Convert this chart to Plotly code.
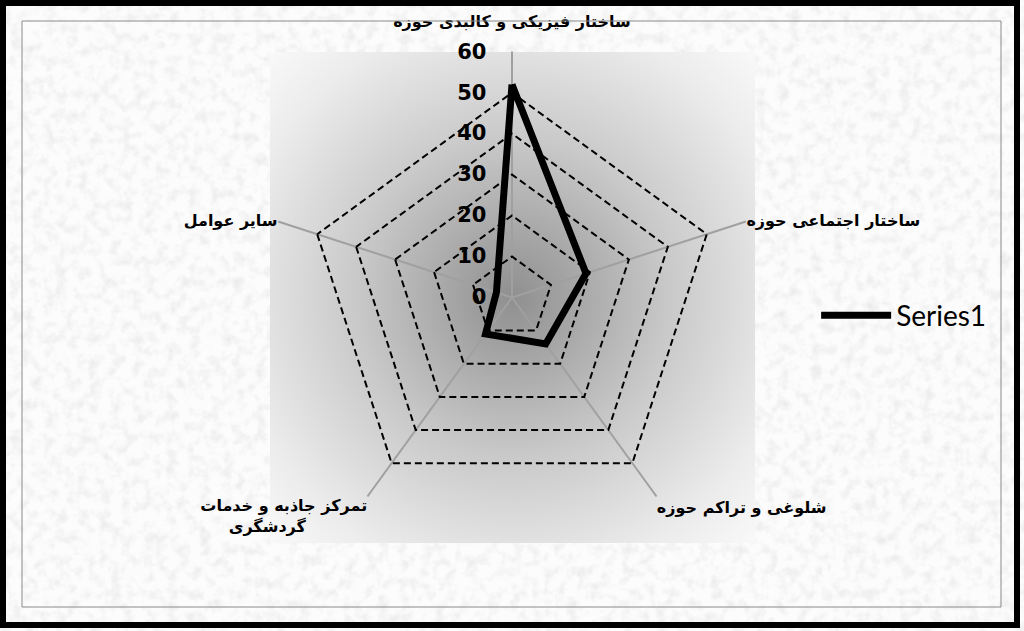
import base64
import plotly.graph_objects as go

categories = [
    "ساختار فیزیکی و کالبدی حوزه<br> ",
    "ساختار اجتماعی حوزه",
    "شلوغی و تراکم حوزه",
    "تمرکز جاذبه و خدمات<br>گردشگری" + "\u00a0" * 11,
    "سایر عوامل",
]
series_name = "Series1"
series_values = [52, 19, 14, 11, 4]
radial_ticks = [0, 10, 20, 30, 40, 50, 60]
radial_ticktext = [str(v) + "\u00a0" * 3 for v in radial_ticks]

W, H = 1024, 631

texture_svg = f"""<svg xmlns='http://www.w3.org/2000/svg' width='{W}' height='{H}'>
<filter id='n' x='0' y='0' width='100%' height='100%'>
<feTurbulence type='fractalNoise' baseFrequency='0.09' numOctaves='3' seed='7'/>
<feColorMatrix type='matrix' values='0 0 0 0 0.55 0 0 0 0 0.55 0 0 0 0 0.55 0 0 0 -2.2 1.25'/>
</filter>
<rect width='100%' height='100%' fill='#fcfcfc'/>
<rect width='100%' height='100%' filter='url(#n)' opacity='0.28'/>
</svg>"""

grad_svg = """<svg xmlns='http://www.w3.org/2000/svg' width='485' height='491'>
<defs><radialGradient id='g' cx='50%' cy='50%' r='72%'>
<stop offset='0' stop-color='#8f8f8f'/>
<stop offset='0.45' stop-color='#c9c9c9'/>
<stop offset='0.8' stop-color='#ececec'/>
<stop offset='1' stop-color='#fafafa'/>
</radialGradient></defs>
<rect width='100%' height='100%' fill='url(#g)'/>
</svg>"""


def uri(s):
    return "data:image/svg+xml;base64," + base64.b64encode(s.encode()).decode()


fig = go.Figure()
fig.add_trace(go.Scatterpolar(
    r=series_values + series_values[:1],
    theta=categories + categories[:1],
    mode="lines",
    name=series_name,
    line=dict(color="black", width=7),
    showlegend=True,
))

fig.update_layout(
    width=W, height=H,
    margin=dict(l=0, r=0, t=0, b=0),
    paper_bgcolor="#f8f8f8",
    polar=dict(
        domain=dict(x=[0.2598, 0.7402], y=[0.1387, 0.9184]),
        bgcolor="rgba(0,0,0,0)",
        gridshape="linear",
        radialaxis=dict(
            range=[0, 60.05], tickvals=radial_ticks, ticktext=radial_ticktext,
            angle=90, tickangle=90,
            side="counterclockwise",
            showline=False, ticks="",
            gridcolor="black", griddash="7px,4px", gridwidth=1.6,
            tickfont=dict(family="DejaVu Sans", size=21, color="black", weight="bold"),
        ),
        angularaxis=dict(
            rotation=90, direction="clockwise",
            showline=False, ticks="",
            gridcolor="#a0a0a0", gridwidth=1.5,
            tickfont=dict(family="DejaVu Sans", size=16, color="black", weight="bold"),
        ),
    ),
    legend=dict(
        x=0.797, y=0.5, xanchor="left", yanchor="middle",
        bgcolor="rgba(0,0,0,0)", itemwidth=70,
        font=dict(family="Lato", size=28, color="black"),
    ),
    images=[
        dict(source=uri(texture_svg), xref="paper", yref="paper", x=0, y=1,
             sizex=1, sizey=1, sizing="stretch", layer="below", xanchor="left", yanchor="top"),
        dict(source=uri(grad_svg), xref="paper", yref="paper", x=270 / W, y=1 - 52 / H,
             sizex=485 / W, sizey=491 / H, sizing="stretch", layer="below",
             xanchor="left", yanchor="top"),
    ],
    shapes=[
        dict(type="rect", xref="paper", yref="paper", x0=3 / W, x1=1 - 7 / W, y0=6 / H, y1=1 - 3 / H,
             line=dict(color="black", width=6)),
        dict(type="rect", xref="paper", yref="paper", x0=22 / W, x1=1001 / W, y0=1 - 607 / H, y1=1 - 21 / H,
             line=dict(color="#8a8a8a", width=1)),
    ],
)

fig.write_html("out.html", config={"displayModeBar": False},
               post_script="document.body.style.margin='0';")
